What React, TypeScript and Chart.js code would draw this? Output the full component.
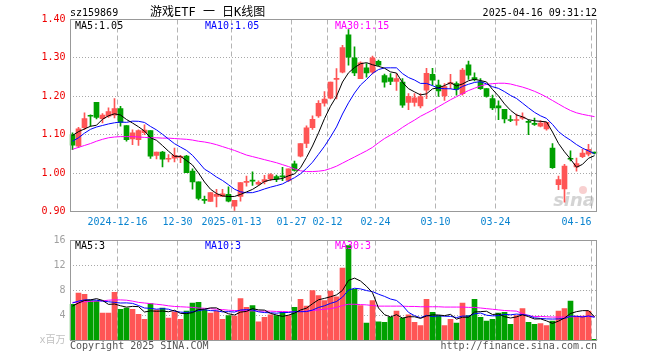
import { useEffect, useRef } from "react";
import { Chart, registerables } from "chart.js";

Chart.register(...registerables);

// ---------- data ----------
const dates = [
  "2024-12-04","2024-12-05","2024-12-06","2024-12-09","2024-12-10","2024-12-11","2024-12-12","2024-12-13",
  "2024-12-16","2024-12-17","2024-12-18","2024-12-19","2024-12-20",
  "2024-12-23","2024-12-24","2024-12-25","2024-12-26","2024-12-27",
  "2024-12-30","2024-12-31",
  "2025-01-02","2025-01-03",
  "2025-01-06","2025-01-07","2025-01-08","2025-01-09","2025-01-10",
  "2025-01-13","2025-01-14","2025-01-15","2025-01-16","2025-01-17",
  "2025-01-20","2025-01-21","2025-01-22","2025-01-23","2025-01-24",
  "2025-01-27",
  "2025-02-05","2025-02-06","2025-02-07",
  "2025-02-10","2025-02-11","2025-02-12","2025-02-13","2025-02-14",
  "2025-02-17","2025-02-18","2025-02-19","2025-02-20","2025-02-21",
  "2025-02-24","2025-02-25","2025-02-26","2025-02-27","2025-02-28",
  "2025-03-03","2025-03-04","2025-03-05","2025-03-06","2025-03-07",
  "2025-03-10","2025-03-11","2025-03-12","2025-03-13","2025-03-14",
  "2025-03-17","2025-03-18","2025-03-19","2025-03-20","2025-03-21",
  "2025-03-24","2025-03-25","2025-03-26","2025-03-27","2025-03-28",
  "2025-03-31",
  "2025-04-01","2025-04-02","2025-04-03",
  "2025-04-07","2025-04-08","2025-04-09","2025-04-10","2025-04-11",
  "2025-04-14","2025-04-15","2025-04-16",
];

const opens = [
  1.100,1.070,1.118,1.150,1.184,1.142,1.148,1.151,1.168,1.124,
  1.089,1.087,1.105,1.111,1.046,1.055,1.036,1.039,1.041,1.044,
  1.005,0.977,0.931,0.926,0.939,0.939,0.945,0.914,0.939,0.976,
  0.981,0.971,0.978,0.985,0.991,0.991,0.981,1.024,1.044,1.077,
  1.118,1.149,1.182,1.195,1.244,1.263,1.360,1.300,1.246,1.274,
  1.263,1.291,1.254,1.248,1.239,1.237,1.184,1.184,1.175,1.216,
  1.257,1.229,1.201,1.232,1.233,1.207,1.282,1.249,1.238,1.220,
  1.194,1.175,1.166,1.138,1.137,1.143,1.134,1.129,1.122,1.115,
  1.065,0.970,0.959,1.037,1.016,1.043,1.049,1.053,
];

const highs = [
  1.105,1.119,1.157,1.152,1.184,1.155,1.170,1.194,1.174,1.124,
  1.113,1.113,1.126,1.111,1.055,1.057,1.048,1.065,1.046,1.046,
  1.011,0.977,0.940,0.949,0.958,0.958,0.964,0.929,0.975,0.992,
  1.003,0.980,0.994,0.999,0.995,1.015,1.011,1.031,1.077,1.123,
  1.149,1.189,1.212,1.237,1.272,1.333,1.374,1.329,1.290,1.285,
  1.305,1.294,1.258,1.259,1.259,1.246,1.207,1.207,1.207,1.273,
  1.273,1.242,1.233,1.257,1.238,1.273,1.292,1.261,1.246,1.220,
  1.203,1.188,1.166,1.150,1.154,1.157,1.139,1.143,1.137,1.132,
  1.077,0.992,1.023,1.058,1.039,1.062,1.075,1.055,
];

const lows = [
  1.061,1.066,1.113,1.122,1.141,1.131,1.145,1.144,1.122,1.083,
  1.074,1.072,1.100,1.038,1.037,1.016,1.029,1.029,1.027,1.001,
  0.958,0.930,0.921,0.926,0.912,0.939,0.925,0.903,0.927,0.966,
  0.968,0.968,0.972,0.980,0.978,0.980,0.978,1.005,1.042,1.066,
  1.114,1.145,1.174,1.193,1.193,1.261,1.281,1.254,1.246,1.250,
  1.258,1.279,1.224,1.230,1.215,1.171,1.165,1.174,1.170,1.194,
  1.229,1.200,1.189,1.220,1.203,1.203,1.244,1.240,1.218,1.198,
  1.165,1.139,1.131,1.134,1.125,1.140,1.100,1.124,1.120,1.112,
  1.012,0.957,0.924,1.032,1.005,1.040,1.045,1.050,
];

const closes = [
  1.073,1.115,1.142,1.148,1.145,1.151,1.160,1.168,1.132,1.087,
  1.105,1.111,1.112,1.044,1.055,1.036,1.038,1.046,1.043,1.001,
  0.977,0.934,0.929,0.949,0.945,0.946,0.927,0.929,0.975,0.978,
  0.979,0.976,0.983,0.996,0.985,0.990,1.011,1.007,1.077,1.118,
  1.140,1.182,1.193,1.237,1.247,1.327,1.302,1.261,1.287,1.261,
  1.300,1.281,1.237,1.239,1.246,1.177,1.200,1.196,1.199,1.260,
  1.242,1.214,1.225,1.236,1.218,1.268,1.255,1.244,1.220,1.200,
  1.170,1.170,1.141,1.137,1.139,1.146,1.132,1.127,1.130,1.132,
  1.014,0.983,1.018,1.036,1.025,1.052,1.062,1.052,
];

// volume in millions (x百万)
const volumes = [
  5.8,7.6,7.4,6.4,6.3,4.4,4.4,7.7,5.0,5.2,
  5.0,4.2,3.4,5.9,4.9,5.2,3.6,4.6,3.4,4.7,
  6.0,6.1,4.9,4.4,4.7,3.4,4.0,3.9,6.7,5.3,
  5.6,3.0,3.7,4.1,4.0,4.5,4.0,5.3,6.6,5.5,
  8.0,7.2,6.4,7.9,7.0,11.6,15.2,8.2,5.6,2.8,
  6.4,3.0,2.9,3.7,4.7,3.6,4.1,2.9,2.4,6.6,
  4.5,4.0,2.4,3.4,2.8,6.0,4.0,6.6,3.7,3.1,
  3.4,4.4,4.5,2.6,4.0,5.1,2.9,2.6,2.7,2.4,
  3.1,4.7,5.1,6.3,3.9,3.9,4.7,0.2,
];

// moving-average values before a full window exists
const priceMA5Lead = [1.098, 1.108, 1.115, 1.122];
const priceMA10Lead = [1.083, 1.092, 1.104, 1.114, 1.120, 1.124, 1.128, 1.131, 1.133];
const volMA5Lead = [5.5, 6.0, 6.4, 6.5];
const volMA10Lead = [6.0, 6.3, 6.5, 6.5, 6.45, 6.3, 6.2, 6.1, 6.0];

// 30-day averages
const priceMA30 = [
  1.062,1.067,1.072,1.077,1.083,1.088,1.092,1.094,1.095,1.095,
  1.095,1.094,1.093,1.092,1.092,1.091,1.091,1.090,1.089,1.088,
  1.086,1.083,1.081,1.078,1.074,1.069,1.064,1.059,1.053,1.047,
  1.043,1.039,1.035,1.031,1.027,1.022,1.017,1.011,1.006,1.004,
  1.004,1.005,1.007,1.012,1.018,1.026,1.034,1.042,1.050,1.058,
  1.067,1.079,1.090,1.099,1.108,1.119,1.129,1.138,1.148,1.156,
  1.164,1.173,1.182,1.191,1.199,1.207,1.215,1.221,1.227,1.231,
  1.233,1.234,1.234,1.232,1.228,1.224,1.219,1.213,1.206,1.198,
  1.189,1.180,1.171,1.163,1.157,1.153,1.150,1.147,
];

const volMA30 = [
  6.1,6.15,6.2,6.25,6.3,6.35,6.45,6.5,6.5,6.45,
  6.3,6.1,6.0,5.9,5.8,5.7,5.55,5.45,5.4,5.35,
  5.3,5.2,5.15,5.1,5.0,4.95,4.85,4.8,4.8,4.75,
  4.75,4.7,4.7,4.7,4.65,4.65,4.6,4.6,4.65,4.7,
  4.8,4.9,5.0,5.1,5.3,5.6,5.8,5.8,5.75,5.7,
  5.6,5.5,5.5,5.5,5.5,5.5,5.45,5.45,5.4,5.4,
  5.4,5.4,5.35,5.35,5.35,5.35,5.3,5.3,5.2,5.1,
  5.0,4.9,4.8,4.75,4.7,4.3,3.95,3.85,3.85,3.8,
  3.75,3.75,3.75,3.8,3.8,3.85,3.85,3.85,
];

const tickDates = ["2024-12-16","2024-12-30","2025-01-13","2025-01-27","2025-02-12","2025-02-24","2025-03-10","2025-03-24","2025-04-16"];
const tickTexts = ["2024-12-16","12-30","2025-01-13","01-27","02-12","02-24","03-10","03-24","04-16"];
const priceTicks = [0.9, 1.0, 1.1, 1.2, 1.3, 1.4];
const volumeTicks = [0, 4, 8, 12, 16];

const stockCode = "sz159869";
const chartTitle = "游戏ETF 一 日K线图";
const timestamp = "2025-04-16 09:31:12";
const copyright = "Copyright 2025 SINA.COM";
const siteUrl = "http://finance.sina.com.cn";
const volumeUnit = "x百万";
const watermark = "sina";

// ---------- helpers ----------
function movingAvg(vals: number[], n: number, lead: number[]): number[] {
  return vals.map((_, i) => {
    if (i < n - 1) return lead[i];
    let s = 0;
    for (let k = i - n + 1; k <= i; k++) s += vals[k];
    return s / n;
  });
}

const UP = "#ff5555";
const DOWN = "#00a000";
const MONO = '"DejaVu Sans Mono", "Noto Sans CJK SC", monospace';
const CLEAR = "rgba(0,0,0,0)";

const candleColors = closes.map((c, i) => (c >= opens[i] ? UP : DOWN));
const tickIndexSet = new Set(tickDates.map((d) => dates.indexOf(d)));

const ma5 = movingAvg(closes, 5, priceMA5Lead);
const ma10 = movingAvg(closes, 10, priceMA10Lead);
const vma5 = movingAvg(volumes, 5, volMA5Lead);
const vma10 = movingAvg(volumes, 10, volMA10Lead);

const vGridColor = (c: any) =>
  c.type === "tick" && tickIndexSet.has(c.index) ? "#b4b4b4" : CLEAR;

function frame(chart: any) {
  const { left, top, right, bottom } = chart.chartArea;
  const ctx = chart.ctx;
  const x0 = Math.ceil(left) + 0.5;
  const y0 = Math.floor(top) + 0.5;
  const x1 = Math.floor(right) + 0.5;
  const y1 = Math.floor(bottom) + 0.5;
  ctx.save();
  ctx.strokeStyle = "#999999";
  ctx.lineWidth = 1;
  ctx.strokeRect(x0, y0, x1 - x0 - 1, y1 - y0);
  ctx.restore();
}

function text(ctx: CanvasRenderingContext2D, s: string, x: number, y: number, color: string, font: string, align: CanvasTextAlign = "left") {
  ctx.save();
  ctx.font = font;
  ctx.fillStyle = color;
  ctx.textAlign = align;
  ctx.textBaseline = "middle";
  ctx.fillText(s, x, y);
  ctx.restore();
}

const lineDs = (label: string, data: number[], color: string) => ({
  type: "line" as const,
  label,
  data,
  borderColor: color,
  borderWidth: 1,
  pointRadius: 0,
  tension: 0,
  fill: false,
  order: 0,
});

export default function App() {
  const priceRef = useRef<HTMLCanvasElement>(null);
  const volRef = useRef<HTMLCanvasElement>(null);

  useEffect(() => {
    const last = dates.length - 1;

    const pricePlugin = {
      id: "priceDecor",
      beforeDatasetsDraw(chart: any) {
        const ctx = chart.ctx;
        ctx.save();
        ctx.font = 'italic bold 18px "DejaVu Sans"';
        ctx.fillStyle = "rgba(170,170,170,0.5)";
        ctx.textAlign = "right";
        ctx.textBaseline = "alphabetic";
        ctx.fillText(watermark, 595, 206);
        ctx.fillStyle = "rgba(235,120,120,0.35)";
        ctx.beginPath();
        ctx.arc(583, 190, 4, 0, Math.PI * 2);
        ctx.fill();
        ctx.restore();
      },
      afterDraw(chart: any) {
        const ctx = chart.ctx;
        frame(chart);
        text(ctx, stockCode, 70, 13, "#000", `10px ${MONO}`);
        text(ctx, chartTitle, 150, 12.5, "#000", `12px ${MONO}`);
        text(ctx, timestamp, 597, 13, "#000", `10px ${MONO}`, "right");
        text(ctx, "MA5:" + ma5[last].toFixed(2), 75, 26, "#000", `10px ${MONO}`);
        text(ctx, "MA10:" + ma10[last].toFixed(2), 205, 26, "#0000ff", `10px ${MONO}`);
        text(ctx, "MA30:" + priceMA30[last].toFixed(2), 335, 26, "#ff00ff", `10px ${MONO}`);
      },
    };

    const volPlugin = {
      id: "volDecor",
      afterDraw(chart: any) {
        const ctx = chart.ctx;
        frame(chart);
        text(ctx, "MA5:" + Math.floor(vma5[last]), 75, 246.5, "#000", `10px ${MONO}`);
        text(ctx, "MA10:" + Math.floor(vma10[last]), 205, 246.5, "#0000ff", `10px ${MONO}`);
        text(ctx, "MA30:" + Math.floor(volMA30[last]), 335, 246.5, "#ff00ff", `10px ${MONO}`);
        text(ctx, copyright, 70, 346, "#555555", `10px ${MONO}`);
        text(ctx, siteUrl, 597, 346, "#555555", `10px ${MONO}`, "right");
      },
    };

    const priceChart = new Chart(priceRef.current as HTMLCanvasElement, {
      type: "bar",
      data: {
        labels: dates,
        datasets: [
          lineDs("MA5", ma5, "#000000"),
          lineDs("MA10", ma10, "#0000ff"),
          lineDs("MA30", priceMA30, "#ff00ff"),
          {
            type: "bar",
            label: "body",
            data: opens.map((o, i) => [o, closes[i]]) as any,
            backgroundColor: candleColors,
            borderWidth: 0,
            barThickness: 5,
            minBarLength: 1,
            grouped: false,
            order: 1,
          },
          {
            type: "bar",
            label: "wick",
            data: lows.map((l, i) => [l, highs[i]]) as any,
            backgroundColor: candleColors,
            borderWidth: 0,
            barThickness: 1,
            grouped: false,
            order: 2,
          },
        ] as any,
      },
      options: {
        responsive: false,
        animation: false,
        devicePixelRatio: 1,
        events: [],
        layout: { padding: { left: 0, top: 19.5, right: 62.5, bottom: 0 } },
        plugins: { legend: { display: false }, tooltip: { enabled: false } },
        scales: {
          x: {
            type: "category",
            offset: true,
            grid: { offset: true, drawTicks: false, color: vGridColor, lineWidth: 1 },
            border: { display: false, dash: [5, 3] },
            ticks: {
              autoSkip: false,
              maxRotation: 0,
              minRotation: 0,
              padding: 5,
              labelOffset: -3,
              color: "#0a84d0",
              font: { family: MONO, size: 10 },
              callback: (_v: any, i: number) => {
                const k = tickDates.indexOf(dates[i]);
                if (k < 0) return "";
                return i === dates.length - 1 ? tickTexts[k] + "     " : tickTexts[k];
              },
            },
            afterFit: (s: any) => {
              s.height = 148.5;
            },
          },
          y: {
            min: priceTicks[0],
            max: priceTicks[priceTicks.length - 1],
            afterBuildTicks: (s: any) => {
              s.ticks = priceTicks.map((v) => ({ value: v }));
            },
            grid: {
              drawTicks: false,
              color: (c: any) =>
                c.tick && (c.tick.value === priceTicks[0] || c.tick.value === priceTicks[priceTicks.length - 1])
                  ? CLEAR
                  : "#a8a8a8",
            },
            border: { display: false, dash: [1, 2] },
            ticks: {
              padding: 4,
              color: "#ee0000",
              font: { family: MONO, size: 10 },
              callback: (v: any) => Number(v).toFixed(2),
            },
            afterFit: (s: any) => {
              s.width = 69.5;
            },
          },
        },
      } as any,
      plugins: [pricePlugin],
    });

    const volChart = new Chart(volRef.current as HTMLCanvasElement, {
      type: "bar",
      data: {
        labels: dates,
        datasets: [
          lineDs("MA5", vma5, "#000000"),
          lineDs("MA10", vma10, "#0000ff"),
          lineDs("MA30", volMA30, "#ff00ff"),
          {
            type: "bar",
            label: "volume",
            data: volumes,
            backgroundColor: candleColors,
            borderWidth: 0,
            barThickness: 5,
            grouped: false,
            order: 1,
          },
        ] as any,
      },
      options: {
        responsive: false,
        animation: false,
        devicePixelRatio: 1,
        events: [],
        layout: { padding: { left: 0, top: 240.5, right: 62.5, bottom: 0 } },
        plugins: { legend: { display: false }, tooltip: { enabled: false } },
        scales: {
          x: {
            type: "category",
            offset: true,
            grid: { offset: true, drawTicks: false, color: vGridColor, lineWidth: 1 },
            border: { display: false, dash: [5, 3] },
            ticks: { display: false },
            afterFit: (s: any) => {
              s.height = 19.5;
            },
          },
          y: {
            min: volumeTicks[0],
            max: volumeTicks[volumeTicks.length - 1],
            afterBuildTicks: (s: any) => {
              s.ticks = volumeTicks.map((v) => ({ value: v }));
            },
            grid: {
              drawTicks: false,
              color: (c: any) =>
                c.tick && (c.tick.value === volumeTicks[0] || c.tick.value === volumeTicks[volumeTicks.length - 1])
                  ? CLEAR
                  : "#a8a8a8",
            },
            border: { display: false, dash: [1, 2] },
            ticks: {
              padding: 4,
              color: (c: any) => (c.tick && c.tick.value === 0 ? "#c0c0c0" : "#a0a0a0"),
              font: { family: MONO, size: 10 },
              callback: (v: any) => (Number(v) === 0 ? volumeUnit : String(v)),
            },
            afterFit: (s: any) => {
              s.width = 69.5;
            },
          },
        },
      } as any,
      plugins: [volPlugin],
    });

    return () => {
      priceChart.destroy();
      volChart.destroy();
    };
  }, []);

  return (
    <div style={{ position: "fixed", left: 0, top: 0, width: 660, height: 360, background: "#fff" }}>
      <canvas ref={priceRef} width={660} height={360} style={{ position: "absolute", left: 0, top: 0 }} />
      <canvas ref={volRef} width={660} height={360} style={{ position: "absolute", left: 0, top: 0 }} />
    </div>
  );
}
